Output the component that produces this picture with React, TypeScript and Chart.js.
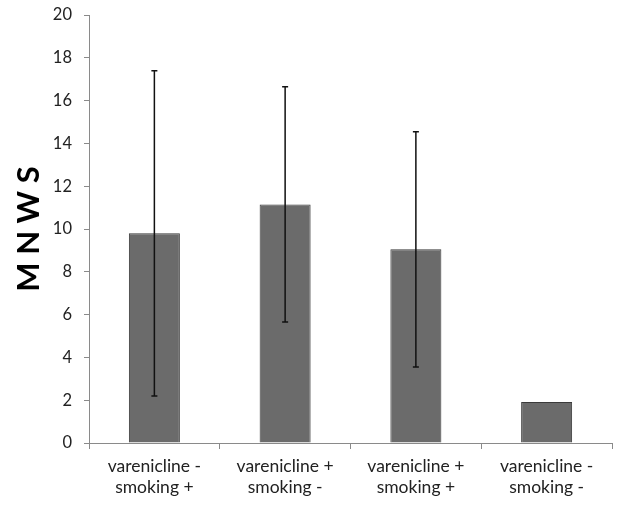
import React, { useEffect, useRef } from "react";
import { Chart, registerables } from "chart.js";

Chart.register(...registerables);

const categories: string[][] = [
  ["varenicline -", "smoking +"],
  ["varenicline +", "smoking -"],
  ["varenicline +", "smoking +"],
  ["varenicline -", "smoking -"],
];
const means: number[] = [9.8, 11.15, 9.05, 1.92];
const errors: number[] = [7.6, 5.5, 5.5, 0];
const yTicks: number[] = [0, 2, 4, 6, 8, 10, 12, 14, 16, 18, 20];
const yTitle = "M N W S";

const errorBarPlugin = {
  id: "errorBars",
  afterDatasetsDraw(chart: any) {
    const ctx = chart.ctx;
    const meta = chart.getDatasetMeta(0);
    const y = chart.scales.y;
    ctx.save();
    ctx.strokeStyle = "#111";
    ctx.lineWidth = 1.5;
    meta.data.forEach((bar: any, i: number) => {
      const e = errors[i];
      if (!e) return;
      const x = bar.x;
      const top = y.getPixelForValue(means[i] + e);
      const bot = y.getPixelForValue(means[i] - e);
      ctx.beginPath();
      ctx.moveTo(x, top);
      ctx.lineTo(x, bot);
      ctx.moveTo(x - 3, top);
      ctx.lineTo(x + 3, top);
      ctx.moveTo(x - 3, bot);
      ctx.lineTo(x + 3, bot);
      ctx.stroke();
    });
    ctx.restore();
  },
};

export default function App() {
  const ref = useRef<HTMLCanvasElement | null>(null);
  useEffect(() => {
    if (!ref.current) return;
    const chart = new Chart(ref.current, {
      type: "bar",
      data: {
        labels: categories,
        datasets: [
          {
            data: means,
            backgroundColor: "#6b6b6b",
            borderColor: "#3a3a3a",
            borderWidth: 1,
            barPercentage: 0.39,
            categoryPercentage: 1,
          },
        ],
      },
      plugins: [errorBarPlugin],
      options: {
        responsive: false,
        animation: false,
        layout: { padding: { top: 15, right: 8, left: 0, bottom: 0 } },
        plugins: { legend: { display: false }, tooltip: { enabled: false } },
        scales: {
          x: {
            grid: {
              display: true,
              drawOnChartArea: false,
              drawTicks: true,
              tickLength: 6,
              color: "#8a8a8a",
              offset: true,
            },
            border: { color: "#8a8a8a", width: 1 },
            ticks: {
              color: "#222",
              font: { family: "Lato", size: 17.5, lineHeight: 1.2 },
              padding: 7,
              maxRotation: 0,
              autoSkip: false,
            },
            afterFit: (s: any) => {
              s.height = 63;
            },
          },
          y: {
            min: 0,
            max: 20,
            afterBuildTicks: (s: any) => {
              s.ticks = yTicks.map((v) => ({ value: v }));
            },
            grid: {
              display: true,
              drawOnChartArea: false,
              drawTicks: true,
              tickLength: 5,
              color: "#8a8a8a",
            },
            border: { color: "#8a8a8a", width: 1 },
            ticks: {
              color: "#222",
              font: { family: "Lato", size: 16.5 },
              padding: 12,
            },
            title: {
              display: true,
              text: yTitle,
              color: "#000",
              font: { family: "Lato", size: 31, weight: "bold" },
              padding: { top: 10, bottom: 0 },
            },
            afterFit: (s: any) => {
              s.width = 89;
              s.paddingTop = 0;
              s.paddingBottom = 0;
            },
          },
        },
      },
    });
    return () => chart.destroy();
  }, []);
  return (
    <div style={{ position: "absolute", left: 0, top: 0, width: 620, height: 506, background: "#fff" }}>
      <canvas ref={ref} width={620} height={506} style={{ width: 620, height: 506 }} />
    </div>
  );
}
